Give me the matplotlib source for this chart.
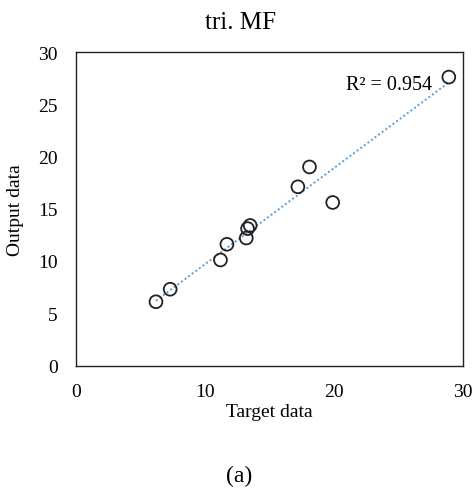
import numpy as np
import matplotlib
matplotlib.use("Agg")
import matplotlib.pyplot as plt

target = [6.2, 7.3, 11.2, 11.7, 13.2, 13.3, 13.5, 17.2, 18.1, 19.9, 28.9]
output = [6.1, 7.3, 10.1, 11.6, 12.2, 13.1, 13.4, 17.1, 19.0, 15.6, 27.6]
r2_text = "R² = 0.954"
xticks = [0, 10, 20, 30]
yticks = [0, 5, 10, 15, 20, 25, 30]

plt.rcParams['font.family'] = ['Liberation Serif', 'DejaVu Serif']

fig = plt.figure(figsize=(4.74, 4.89), dpi=100)
ax = fig.add_axes([76/474, 1-366.5/489, (463-76)/474, (366.5-53)/489])

ax.scatter(target, output, s=85, facecolors='none', edgecolors='#222222', linewidths=1.3, zorder=3)

t = np.array(target); o = np.array(output)
m, b = np.polyfit(t, o, 1)
xs = np.array([t.min(), t.max()])
ax.plot(xs, m*xs + b, linestyle=(0, (1, 1.3)), color='#5b9bd5', linewidth=1.4, zorder=2)

ax.text(27.6, 26.9, r2_text, ha='right', va='center', fontsize=14.5)

ax.set_xlim(0, 30)
ax.set_ylim(0, 30)
ax.set_xticks(xticks)
ax.set_yticks(yticks)
ax.tick_params(length=0, labelsize=14)
ax.tick_params(axis='x', pad=12.5)
ax.tick_params(axis='y', pad=13)
for s in ax.spines.values():
    s.set_linewidth(1.0)
    s.set_color('#222222')

ax.set_xlabel("Target data", fontsize=14, labelpad=2)
fig.text(16/474, 1-210/489, "Output data", rotation=90, ha='center', va='center', fontsize=14)
fig.text(241/474, 1-23/489, "tri. MF", ha='center', va='center', fontsize=18)
fig.text(239/474, 1-476/489, "(a)", ha='center', va='center', fontsize=17)

fig.savefig("out.png", dpi=100)
